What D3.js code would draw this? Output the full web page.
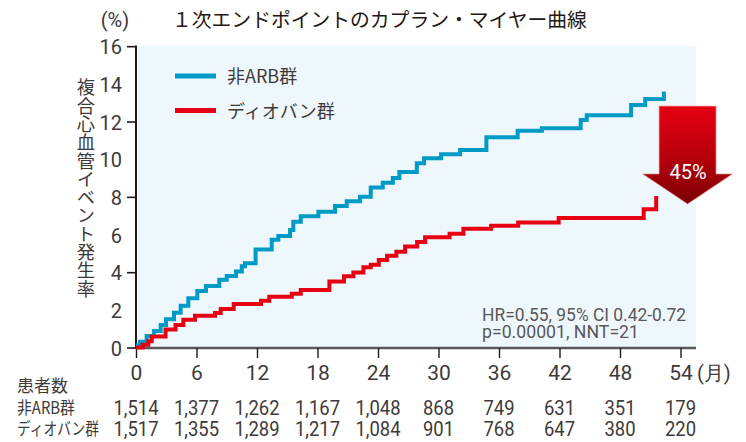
<!DOCTYPE html>
<html>
<head>
<meta charset="utf-8">
<script src="https://cdn.jsdelivr.net/npm/d3@7"></script>
<style>
  body { margin: 0; background: #fff; }
  svg { display: block; }
  .num { font-family: "Liberation Sans Narrow", "Roboto", sans-serif; }
  .jp { font-family: "Noto Sans CJK JP", sans-serif; }
</style>
</head>
<body>
<svg id="chart" width="746" height="442"></svg>
<script>
'use strict';

// step points [month, %]
const nonArb = [
    [0, 0.1], [0.4, 0.31], [1.06, 0.61], [1.79, 0.88], [2.45, 1.19], [2.98, 1.5],
    [3.77, 1.84], [4.43, 2.22], [5.19, 2.61], [6.08, 3.0], [6.94, 3.27], [8.26, 3.6],
    [9.0, 3.8], [9.92, 4.04], [10.49, 4.31], [10.81, 4.48], [11.86, 5.2], [13.46, 5.72],
    [14.12, 5.92], [15.28, 6.24], [15.6, 6.68], [16.34, 6.97], [18.09, 7.21], [19.74, 7.52],
    [20.9, 7.77], [22.22, 8.0], [23.28, 8.5], [24.47, 8.75], [25.47, 9.0], [26.12, 9.32],
    [27.85, 9.78], [28.57, 10.05], [30.26, 10.26], [32.14, 10.49], [34.75, 11.17],
    [37.85, 11.51], [40.25, 11.64], [44.1, 12.08], [44.7, 12.33], [49.1, 12.88],
    [50.5, 13.2], [52.35, 13.6]
];
const diovan = [
    [0, 0], [0.66, 0.14], [1.22, 0.33], [1.56, 0.59], [2.93, 0.95], [3.92, 1.2],
    [4.69, 1.47], [5.85, 1.69], [7.84, 1.83], [8.4, 2.04], [9.69, 2.31], [12.4, 2.48],
    [13.22, 2.69], [15.45, 2.86], [16.34, 3.05], [19.18, 3.5], [20.63, 3.78], [21.56, 3.98],
    [22.55, 4.26], [23.28, 4.4], [24.08, 4.64], [24.9, 4.87], [25.82, 5.09], [26.69, 5.37],
    [27.88, 5.6], [28.67, 5.85], [31.1, 6.04], [32.47, 6.3], [35.22, 6.46], [37.9, 6.64],
    [41.92, 6.88], [50.35, 7.34], [51.59, 8.04]
];

const xTicks = [0, 6, 12, 18, 24, 30, 36, 42, 48, 54];
const yTicks = [0, 2, 4, 6, 8, 10, 12, 14, 16];
const atRiskNonArb = ["1,514", "1,377", "1,262", "1,167", "1,048", "868", "749", "631", "351", "179"];
const atRiskDiovan = ["1,517", "1,355", "1,289", "1,217", "1,084", "901", "768", "647", "380", "220"];
const seriesNames = ["非ARB群", "ディオバン群"];
const reduction = "45%";
const statLines = ["HR=0.55, 95% CI 0.42-0.72", "p=0.00001, NNT=21"];

const blue = "#009ac7",
    red = "#e60012",
    ink = "#3e3a39";

let svg = d3.select("#chart");

let x = d3.scaleLinear().domain([0, 54]).range([136, 680.5]);
let y = d3.scaleLinear().domain([0, 16]).range([347.5, 46.2]);

// plot background
svg.append("rect")
    .attr("x", 136).attr("y", 46)
    .attr("width", 560).attr("height", 302)
    .attr("fill", "#eef7fb");

// title + unit
svg.append("text").attr("class", "jp")
    .attr("x", 172).attr("y", 27)
    .attr("font-size", 19.8).attr("fill", "#231815")
    .text("１次エンドポイントのカプラン・マイヤー曲線");
svg.append("text").attr("class", "num")
    .attr("x", 115).attr("y", 27)
    .attr("text-anchor", "middle")
    .attr("font-size", 20).attr("fill", ink)
    .text("(%)");

// y axis
let yAxis = svg.append("g")
    .attr("transform", "translate(136,0)")
    .call(d3.axisLeft(y).tickValues(yTicks).tickSize(9).tickPadding(5));
yAxis.select(".domain").remove();
yAxis.selectAll(".tick line")
    .attr("stroke", "#231815").attr("stroke-width", 1.6)
    .attr("x2", function(d) { return d % 4 === 0 ? -9 : 0; });
yAxis.selectAll(".tick text")
    .attr("class", "num").attr("font-size", 20).attr("fill", ink)
    .attr("dy", "0.38em");
svg.append("line")
    .attr("x1", 136).attr("x2", 136)
    .attr("y1", y(16) - 0.8).attr("y2", 349)
    .attr("stroke", "#231815").attr("stroke-width", 2);

// vertical y label
svg.append("text").attr("class", "jp")
    .attr("x", 86).attr("y", 188)
    .attr("text-anchor", "middle")
    .style("writing-mode", "vertical-rl")
    .attr("font-size", 18.3).attr("fill", ink)
    .text("複合心血管イベント発生率");

// x axis
let xAxis = svg.append("g")
    .attr("transform", "translate(0,348)")
    .call(d3.axisBottom(x).tickValues(xTicks).tickSize(10).tickSizeOuter(0));
xAxis.select(".domain")
    .attr("d", "M136,0H696")
    .attr("stroke", "#595757").attr("stroke-width", 2.6);
xAxis.selectAll(".tick line").attr("stroke", "#231815").attr("stroke-width", 1.4);
xAxis.selectAll(".tick text")
    .attr("class", "num").attr("font-size", 21).attr("fill", ink)
    .attr("y", 24).attr("dy", "0.36em");
svg.append("text").attr("class", "num")
    .attr("x", 697).attr("y", 379.5)
    .attr("font-size", 20).attr("fill", ink)
    .text("(月)");

// curves
let line = d3.line()
    .x(function(d) { return x(d[0]); })
    .y(function(d) { return y(d[1]); })
    .curve(d3.curveStepAfter);

[[nonArb, blue], [diovan, red]].forEach(function(s) {
    svg.append("path")
        .datum(s[0])
        .attr("fill", "none")
        .attr("stroke", s[1])
        .attr("stroke-width", 4)
        .attr("d", line);
});

// legend
let legend = svg.append("g");
seriesNames.forEach(function(name, i) {
    let ly = 76 + i * 34.5;
    legend.append("line")
        .attr("x1", 175).attr("x2", 216)
        .attr("y1", ly).attr("y2", ly)
        .attr("stroke", i === 0 ? blue : red)
        .attr("stroke-width", 5);
    legend.append("text").attr("class", "jp")
        .attr("x", 227).attr("y", ly + 1).attr("dy", "0.36em")
        .attr("font-size", 18).attr("fill", ink)
        .text(name);
});

// reduction arrow
let defs = svg.append("defs");
let grad = defs.append("linearGradient")
    .attr("id", "arrowGrad")
    .attr("x1", 0).attr("y1", 0).attr("x2", 0).attr("y2", 1);
grad.append("stop").attr("offset", "0%").attr("stop-color", "#e60012");
grad.append("stop").attr("offset", "55%").attr("stop-color", "#b4000c");
grad.append("stop").attr("offset", "100%").attr("stop-color", "#7a0003");

let ax = x(54.7),
    aTop = y(12.82),
    aHead = y(9.22),
    aTip = y(7.62);
svg.append("path")
    .attr("d", d3.line()([
        [ax - 28.5, aTop], [ax + 28.5, aTop], [ax + 28.5, aHead], [ax + 45, aHead],
        [ax, aTip], [ax - 45, aHead], [ax - 28.5, aHead]
    ]) + "Z")
    .attr("fill", "url(#arrowGrad)")
    .attr("stroke", "#f3a0a5")
    .attr("stroke-width", 0.7);
svg.append("text").attr("class", "num")
    .attr("x", ax + 0.5).attr("y", aHead + 5)
    .attr("text-anchor", "middle")
    .attr("font-size", 20).attr("fill", "#fff")
    .text(reduction);

// stats
let statWidths = [204, 157];
statLines.forEach(function(t, i) {
    svg.append("text").attr("class", "num")
        .attr("x", 482).attr("y", 321 + i * 17)
        .attr("font-size", 18.5).attr("fill", "#595757")
        .attr("textLength", statWidths[i])
        .attr("lengthAdjust", "spacingAndGlyphs")
        .text(t);
});

// number at risk table
svg.append("text").attr("class", "jp")
    .attr("x", 17).attr("y", 386).attr("dy", "0.36em")
    .attr("font-size", 17).attr("fill", ink)
    .text("患者数");
[atRiskNonArb, atRiskDiovan].forEach(function(row, r) {
    let ry = 408 + r * 20.5;
    svg.append("text").attr("class", "jp")
        .attr("x", 17).attr("y", ry).attr("dy", "0.36em")
        .attr("font-size", 17).attr("fill", ink)
        .attr("textLength", r === 0 ? 58 : 82)
        .attr("lengthAdjust", "spacingAndGlyphs")
        .text(seriesNames[r]);
    svg.append("g").selectAll("text")
        .data(row)
        .enter().append("text")
        .attr("class", "num")
        .attr("transform", function(d, i) {
            return "translate(" + x(xTicks[i]) + "," + ry + ") scale(0.9,1)";
        })
        .attr("dy", "0.36em")
        .attr("text-anchor", "middle")
        .attr("font-size", 20.5).attr("fill", ink)
        .text(function(d) { return d; });
});
</script>
</body>
</html>
